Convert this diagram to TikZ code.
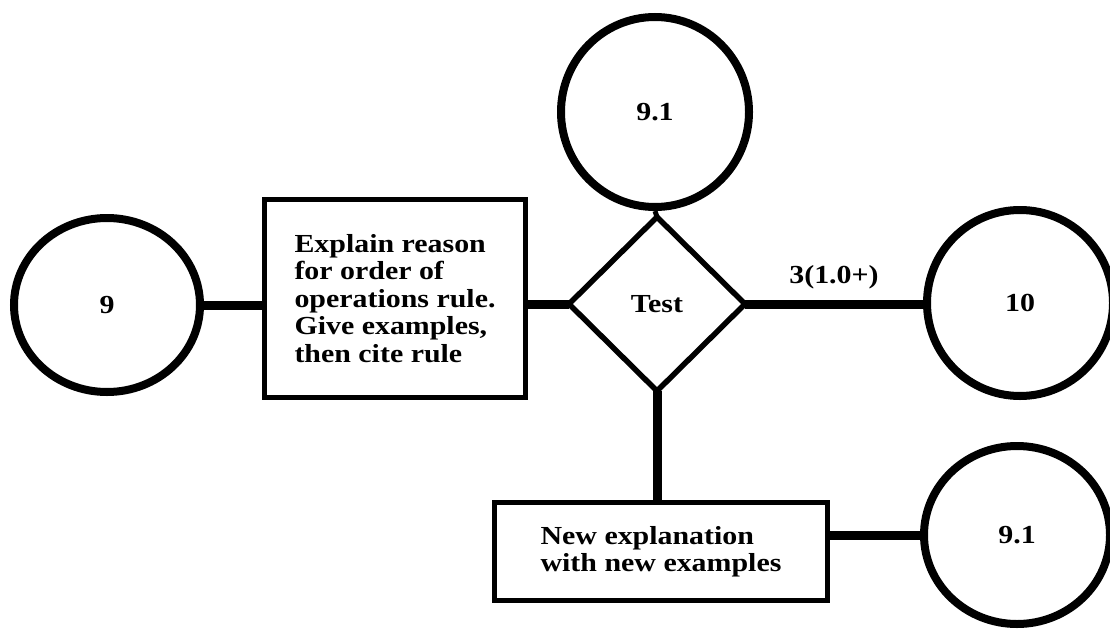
\documentclass[tikz,border=0pt]{standalone}
\usepackage{fontspec}
\setmainfont{Liberation Serif}[FakeStretch=1.15]
\usetikzlibrary{shapes.geometric}
\begin{document}
\begin{tikzpicture}[x=1pt,y=-1pt,
  lbl/.style={font=\fontsize{26}{27.5}\selectfont\bfseries},
  ring/.style={draw, ellipse, line width=8pt, inner sep=0pt, lbl},
  box/.style={draw, rectangle, line width=5pt, inner sep=0pt, lbl},
  decision/.style={draw, diamond, line width=5.5pt, inner sep=0pt, outer sep=0pt, lbl},
  link/.style={line width=9pt},
  touchlink/.style={line width=5pt}]
\useasboundingbox (0,0) rectangle (1110,629);

% nodes
\node[ring, minimum width=186pt, minimum height=174pt] (c9) at (107,305) {9};
\node[box, minimum width=261pt, minimum height=198pt, align=left] (explain) at (395,298.5)
  {Explain reason\\for order of\\operations rule.\\Give examples,\\then cite rule};
\node[decision, minimum width=176pt, minimum height=174pt] (test) at (657,304) {Test};
\node[ring, minimum width=188pt, minimum height=190pt] (retry) at (655,112) {9.1};
\node[ring, minimum width=186pt, minimum height=186pt] (c10) at (1020,303) {10};
\node[box, minimum width=333pt, minimum height=98pt, align=left] (newexp) at (661,551.5)
  {New explanation\\with new examples};
\node[ring, minimum width=186pt, minimum height=178pt] (retryb) at (1017,535) {9.1};

% connectors
\draw[link] (c9.east) -- (c9.east -| explain.west);
\draw[link] (test.west -| explain.east) -- (test.west);
\draw[link] (test.east) -- (test.east -| c10.west)
  node[midway, above=10pt, inner sep=0pt, lbl] (pass) {3(1.0+)};
\draw[touchlink] (retry.south) -- (test.north);
\draw[link] (test.south) -- (test.south |- newexp.north);
\draw[link] (newexp.east |- retryb.west) -- (retryb.west);
\end{tikzpicture}
\end{document}
